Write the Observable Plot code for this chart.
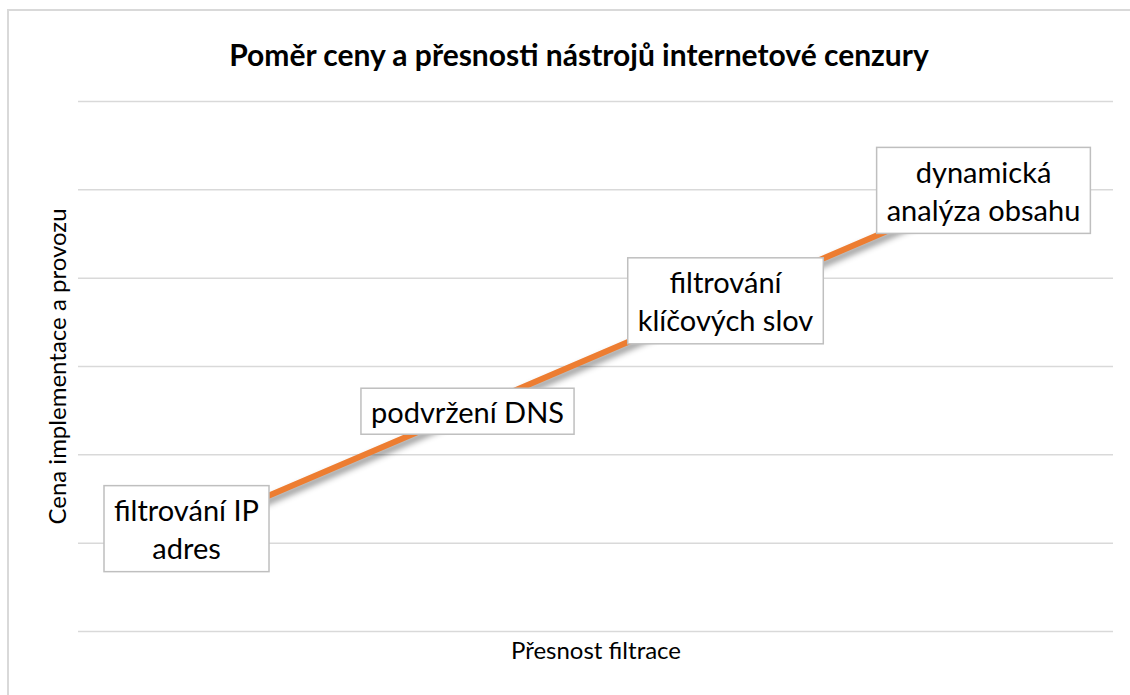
<!DOCTYPE html>
<html>
<head>
<meta charset="utf-8">
<script src="https://cdn.jsdelivr.net/npm/d3@7"></script>
<script src="https://cdn.jsdelivr.net/npm/@observablehq/plot@0.6"></script>
<style>
  html, body { margin: 0; padding: 0; background: #fff; }
  body { width: 1130px; height: 695px; overflow: hidden; position: relative; font-family: Lato, "Open Sans", sans-serif; }
  #frame { position: absolute; left: 7px; top: 9px; width: 1200px; height: 800px; border-left: 2px solid #d9d9d9; border-top: 2px solid #d9d9d9; box-sizing: border-box; }
  #chart { position: absolute; left: 0; top: 0; width: 1130px; }
  #title { height: 80px; box-sizing: border-box; padding-top: 38px; line-height: 32px; text-align: center; font-weight: bold; font-size: 30px; color: #000; padding-left: 28px; white-space: nowrap; }
  .orange-line path { filter: drop-shadow(3px 4px 3px rgba(0,0,0,0.45)); }
</style>
</head>
<body>
<div id="frame"></div>
<div id="chart">
  <div id="title">Poměr ceny a přesnosti nástrojů internetové cenzury</div>
</div>
<script>
// ---- data ----
const tools = ["filtrování IP adres", "podvržení DNS", "filtrování klíčových slov", "dynamická analýza obsahu"];
const labelTexts = ["filtrování IP\nadres", "podvržení DNS", "filtrování\nklíčových slov", "dynamická\nanalýza obsahu"];
const cost = [1.25, 2.5, 3.75, 5];
const yTicks = [0, 1, 2, 3, 4, 5, 6];
const xTitle = "Přesnost filtrace";
const yTitle = "Cena implementace a provozu";

const data = tools.map((t, i) => ({tool: t, label: labelTexts[i], cost: cost[i]}));

const labelFont = 29;
const svg = Plot.plot({
  width: 1130,
  height: 615,
  marginTop: 21,
  marginBottom: 64,
  marginLeft: 78,
  marginRight: 17,
  style: {fontFamily: "Lato, 'Open Sans', sans-serif", background: "transparent", color: "#000"},
  x: {type: "point", domain: tools, padding: 0.5, axis: null},
  y: {domain: [0, 6], axis: null},
  marks: [
    Plot.ruleY(yTicks, {stroke: "#d9d9d9", strokeWidth: 1.5}),
    Plot.line(data, {x: "tool", y: "cost", stroke: "#ED7D31", strokeWidth: 6, className: "orange-line"}),
    Plot.text(data.slice(0, 1), {x: "tool", y: "cost", text: "label", dx: -23, dy: 7, fontSize: labelFont, lineHeight: 1.3, fill: "#000", className: "lbl"}),
    Plot.text(data.slice(1), {x: "tool", y: "cost", text: "label", fontSize: labelFont, lineHeight: 1.3, fill: "#000", className: "lbl"}),
    Plot.text([xTitle], {frameAnchor: "bottom", dy: 27, fontSize: 24, fill: "#000"}),
    Plot.text([yTitle], {frameAnchor: "left", textAnchor: "middle", rotate: -90, dx: -20, fontSize: 24, fill: "#000"})
  ]
});
document.getElementById("chart").append(svg);

// draw white boxes behind labels, sized from the rendered text
svg.querySelectorAll("g.lbl text").forEach(t => {
  const b = t.getBBox();
  const n = t.querySelectorAll("tspan").length || 1;
  const h = n * 40 + 6;
  const w = b.width + 20;
  const cy = b.y + b.height / 2;
  const r = document.createElementNS("http://www.w3.org/2000/svg", "rect");
  r.setAttribute("x", b.x + b.width / 2 - w / 2);
  r.setAttribute("y", cy - h / 2);
  r.setAttribute("width", w);
  r.setAttribute("height", h);
  r.setAttribute("fill", "#fff");
  r.setAttribute("stroke", "#bfbfbf");
  r.setAttribute("stroke-width", 1.5);
  if (t.getAttribute("transform")) r.setAttribute("transform", t.getAttribute("transform"));
  t.parentNode.insertBefore(r, t);
});
</script>
</body>
</html>
